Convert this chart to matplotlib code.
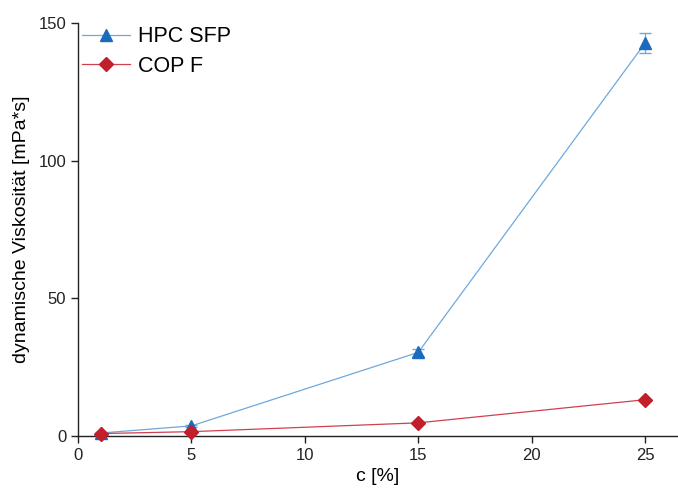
import matplotlib
matplotlib.use("Agg")
import matplotlib.pyplot as plt
from matplotlib.lines import Line2D

plt.rcParams['font.family'] = ['Liberation Sans', 'DejaVu Sans']

conc = [1, 5, 15, 25]
hpc = [1.0, 3.6, 30.3, 142.7]
hpc_err = [0.2, 0.4, 1.2, 3.8]
cop = [0.8, 1.5, 4.7, 13.1]
cop_err = [0.05, 0.05, 0.1, 0.2]

blue_line = '#6fa8dc'
blue_mark = '#1a6bbd'
red_line = '#d04050'
red_mark = '#c01f2b'

fig = plt.figure(figsize=(6.78, 4.88), dpi=100)
ax = fig.add_axes([0.115, 0.107, 0.885, 0.846])

ax.errorbar(conc, hpc, yerr=hpc_err, color=blue_line, lw=0.9, marker='^', ms=9,
            mfc=blue_mark, mec=blue_mark, ecolor=blue_line, elinewidth=0.9, capsize=4,
            zorder=3)
ax.errorbar(conc, cop, yerr=cop_err, color=red_line, lw=0.9, marker='D', ms=7,
            mfc=red_mark, mec=red_mark, ecolor=red_line, elinewidth=0.9, capsize=3,
            zorder=3)

ax.set_xlim(0, 26.45)
ax.set_ylim(0, 150)
ax.set_xticks([0, 5, 10, 15, 20, 25])
ax.set_yticks([0, 50, 100, 150])
for s in ['top', 'right']:
    ax.spines[s].set_visible(False)
for s in ['left', 'bottom']:
    ax.spines[s].set_linewidth(1.0)
    ax.spines[s].set_color('#222222')
ax.tick_params(direction='out', length=5, width=1, labelsize=12, colors='#222222')
ax.set_xlabel('c [%]', fontsize=14, labelpad=4)
ax.set_ylabel('dynamische Viskosität [mPa*s]', fontsize=14, labelpad=6)

handles = [
    Line2D([], [], color=blue_line, lw=0.9, marker='^', ms=9, mfc=blue_mark, mec=blue_mark),
    Line2D([], [], color=red_line, lw=0.9, marker='D', ms=7, mfc=red_mark, mec=red_mark),
]
ax.legend(handles, ['HPC SFP', 'COP F'], loc='upper left', bbox_to_anchor=(0.0, 1.002),
          frameon=False, fontsize=15.5, handlelength=2.2, handletextpad=0.4,
          labelspacing=0.4, borderpad=0.2, borderaxespad=0.0)

for l in ax.lines:
    l.set_clip_on(False)

fig.savefig('out.png', dpi=100)
